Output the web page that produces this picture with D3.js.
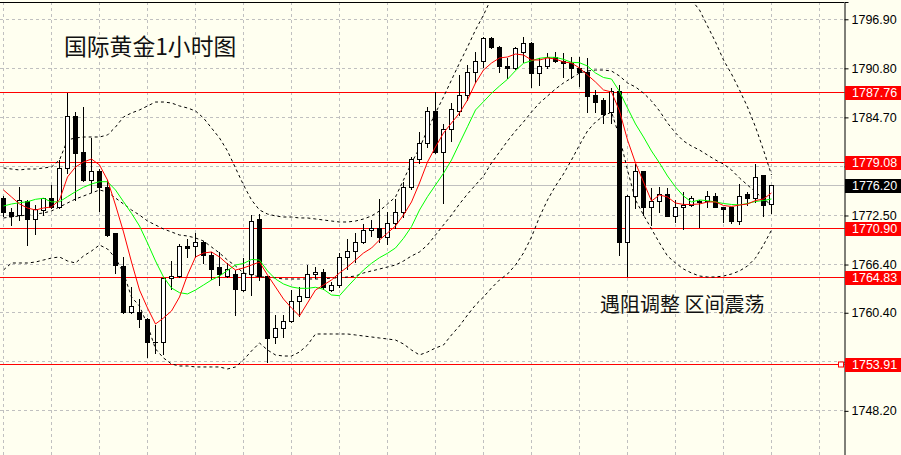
<!DOCTYPE html>
<html><head><meta charset="utf-8">
<script src="https://cdn.jsdelivr.net/npm/d3@7/dist/d3.min.js"></script>
<style>html,body{margin:0;padding:0;background:#fffff0;}svg{display:block;}</style>
</head><body>
<svg id="c" width="901" height="455"></svg>
<script>
const title = "国际黄金1小时图";
const note = "遇阻调整 区间震荡";
const tickValues = [1796.90, 1790.80, 1784.70, 1778.60, 1772.50, 1766.40, 1760.40, 1754.30, 1748.20];
const levels = [1787.76, 1779.08, 1770.90, 1764.83, 1753.91];
const lastPrice = 1776.20;

const opens = [1774.67,1772.81,1772.50,1774.21,1772.06,1773.18,1774.55,1773.55,1778.40,1784.75,1780.39,1776.79,1777.91,1776.04,1770.20,1766.21,1760.49,1760.49,1759.62,1756.64,1756.64,1764.60,1764.97,1768.58,1768.58,1769.20,1767.58,1765.97,1764.97,1765.10,1763.23,1765.22,1771.94,1764.85,1757.38,1758.50,1759.37,1761.86,1762.36,1765.22,1765.41,1763.23,1763.73,1767.33,1768.08,1769.20,1770.69,1770.82,1769.82,1771.44,1772.81,1776.04,1779.52,1781.39,1785.37,1780.39,1783.25,1785.49,1787.48,1790.22,1791.59,1794.45,1793.45,1791.09,1790.84,1792.83,1793.83,1790.10,1790.97,1792.09,1791.71,1791.46,1790.72,1790.22,1787.48,1786.74,1785.25,1787.86,1769.20,1774.92,1777.91,1773.55,1774.18,1775.05,1772.43,1773.55,1773.80,1774.18,1774.18,1774.92,1773.55,1773.43,1771.81,1775.17,1774.67,1777.41,1773.92];
const highs = [1774.92,1773.43,1776.04,1774.42,1773.80,1774.67,1776.29,1779.40,1787.73,1785.37,1785.99,1782.14,1778.28,1776.91,1770.32,1767.33,1763.60,1762.11,1759.70,1758.88,1764.60,1766.84,1768.95,1769.57,1770.32,1769.32,1767.96,1767.96,1766.59,1765.72,1767.21,1772.56,1772.68,1764.90,1760.12,1760.12,1763.23,1763.60,1766.34,1766.09,1765.84,1764.23,1767.83,1769.57,1770.32,1771.44,1771.94,1774.55,1772.93,1774.55,1776.66,1779.77,1782.88,1785.99,1787.86,1783.88,1786.49,1789.97,1791.22,1792.83,1794.70,1794.70,1793.58,1792.09,1793.45,1794.70,1794.08,1792.09,1792.71,1792.83,1792.71,1792.21,1792.21,1792.09,1788.11,1787.11,1788.35,1788.73,1775.05,1778.90,1777.95,1775.92,1776.04,1775.92,1774.42,1775.42,1774.92,1774.42,1775.54,1775.29,1773.60,1773.50,1776.41,1775.42,1778.90,1777.45,1776.20];
const lows = [1772.43,1771.31,1771.94,1768.83,1770.20,1772.56,1773.37,1773.43,1777.78,1774.42,1776.79,1775.42,1773.06,1770.00,1765.34,1760.37,1760.37,1758.63,1754.90,1755.39,1755.27,1763.35,1764.85,1767.33,1767.33,1766.59,1764.60,1763.85,1764.85,1760.12,1763.11,1762.61,1764.47,1754.27,1756.64,1757.38,1759.30,1759.99,1762.30,1764.72,1763.35,1763.15,1763.60,1765.84,1766.71,1769.08,1769.95,1769.20,1768.95,1770.94,1772.31,1775.79,1779.03,1781.02,1780.27,1774.05,1781.76,1785.00,1786.86,1789.10,1790.97,1793.33,1790.34,1789.60,1790.72,1791.59,1788.48,1788.73,1790.84,1791.59,1789.72,1789.60,1788.60,1785.37,1785.37,1784.00,1784.00,1767.58,1764.97,1773.43,1772.56,1771.31,1772.93,1772.40,1771.69,1770.82,1773.68,1771.06,1773.55,1773.50,1771.69,1771.56,1771.44,1773.80,1774.18,1772.43,1772.81];
const closes = [1772.81,1772.43,1774.42,1772.02,1773.30,1774.55,1773.49,1778.40,1784.75,1780.27,1776.91,1777.91,1776.04,1770.07,1766.34,1760.43,1761.12,1759.62,1756.64,1756.70,1764.60,1764.97,1768.58,1768.45,1769.20,1767.46,1765.84,1765.10,1765.72,1763.35,1765.34,1771.81,1764.85,1757.26,1758.50,1759.37,1761.86,1762.48,1765.22,1765.41,1763.60,1763.73,1767.33,1768.08,1769.20,1770.69,1770.94,1769.82,1771.44,1772.81,1776.04,1779.52,1781.39,1785.37,1780.39,1783.25,1785.62,1787.48,1790.34,1791.59,1794.45,1793.45,1790.97,1790.84,1793.21,1793.83,1790.10,1791.09,1792.09,1791.71,1791.34,1790.84,1790.34,1787.24,1786.49,1785.12,1787.86,1769.20,1774.92,1777.91,1773.55,1774.18,1775.05,1772.43,1773.55,1773.80,1774.55,1774.11,1774.92,1773.55,1773.30,1771.81,1774.92,1774.67,1777.28,1773.80,1776.20];

const maFast = [1775.67,1774.80,1773.93,1773.43,1773.18,1773.43,1773.56,1774.43,1777.29,1778.53,1779.15,1779.52,1778.78,1776.91,1773.80,1770.45,1766.71,1763.23,1760.99,1759.00,1759.75,1760.62,1762.36,1765.10,1767.34,1767.83,1767.96,1767.34,1766.47,1765.72,1765.97,1766.34,1766.71,1765.10,1763.61,1762.11,1760.99,1760.00,1761.62,1763.23,1763.85,1764.48,1765.35,1766.09,1766.96,1767.83,1768.45,1769.45,1770.32,1771.19,1772.56,1774.18,1776.54,1779.15,1781.02,1782.76,1784.00,1785.25,1786.86,1788.98,1790.59,1791.46,1792.09,1792.21,1792.58,1792.46,1791.84,1791.84,1792.09,1791.96,1791.59,1791.46,1790.84,1789.97,1789.10,1788.11,1787.86,1785.50,1781.89,1779.03,1776.66,1774.30,1775.05,1774.80,1774.05,1773.87,1773.87,1773.93,1774.18,1774.18,1773.74,1773.62,1773.80,1773.93,1774.36,1774.55,1775.30];
const maSlow = [1773.68,1773.93,1774.09,1774.21,1774.51,1774.64,1774.18,1774.21,1774.84,1775.46,1776.01,1776.42,1776.70,1776.70,1775.67,1774.21,1772.77,1771.19,1769.08,1766.84,1764.85,1763.48,1762.90,1762.74,1763.23,1763.85,1764.48,1764.97,1765.66,1766.34,1766.53,1767.03,1766.96,1765.60,1764.60,1763.98,1763.61,1763.44,1763.44,1763.57,1763.32,1762.61,1762.52,1763.64,1764.69,1765.72,1766.55,1767.25,1767.80,1768.46,1769.66,1771.11,1773.18,1774.84,1776.29,1777.75,1779.40,1781.48,1783.54,1785.62,1786.65,1787.70,1788.60,1789.44,1790.51,1791.43,1791.75,1792.05,1792.17,1792.17,1791.92,1791.55,1791.50,1791.09,1790.22,1789.66,1789.47,1787.92,1785.87,1783.88,1782.26,1780.52,1779.03,1777.41,1776.04,1774.92,1774.18,1774.43,1774.34,1774.18,1773.99,1773.87,1773.80,1773.99,1774.24,1774.36,1774.55];
const bandUpper = [1778.41,1778.28,1778.16,1778.28,1778.28,1778.41,1778.53,1779.40,1781.89,1782.14,1782.26,1782.26,1782.26,1782.51,1783.50,1784.75,1785.25,1785.62,1786.12,1786.61,1786.61,1786.49,1786.12,1785.87,1785.50,1784.62,1783.38,1782.14,1780.52,1778.41,1776.29,1774.43,1773.18,1772.68,1772.44,1772.31,1772.31,1772.19,1772.19,1772.06,1771.94,1771.81,1771.69,1771.69,1771.81,1772.06,1772.44,1773.06,1773.93,1774.80,1776.91,1779.03,1780.89,1783.13,1785.25,1787.24,1789.35,1791.46,1793.45,1795.57,1797.43,1799.55,1801.17,1802.41,1803.03,1803.03,1802.41,1801.54,1800.79,1800.29,1799.92,1799.67,1799.42,1799.18,1798.99,1799.18,1799.67,1800.79,1802.41,1803.65,1804.27,1804.27,1804.03,1803.28,1802.04,1800.54,1799.30,1798.06,1796.07,1794.08,1791.84,1790.10,1788.11,1785.99,1783.51,1780.64,1777.54];
const bandMiddle = [1772.19,1772.31,1772.44,1772.56,1772.68,1772.81,1773.06,1773.56,1774.05,1774.55,1774.92,1775.30,1775.67,1775.42,1774.67,1773.93,1773.18,1772.56,1771.81,1771.32,1770.82,1770.45,1770.07,1769.95,1769.70,1769.33,1768.58,1767.83,1766.96,1766.22,1765.35,1765.10,1764.85,1764.85,1764.73,1764.60,1764.60,1764.60,1764.60,1764.60,1764.60,1764.73,1764.73,1764.85,1764.97,1765.35,1765.60,1765.84,1766.09,1766.34,1766.84,1767.46,1767.96,1768.83,1770.07,1771.32,1772.56,1773.93,1775.17,1776.29,1777.41,1779.03,1780.39,1781.76,1783.01,1784.13,1785.37,1786.49,1787.36,1788.23,1788.98,1789.60,1790.22,1790.47,1790.59,1790.59,1790.47,1789.85,1788.98,1788.48,1787.73,1786.74,1785.50,1784.00,1782.77,1781.76,1781.14,1780.64,1780.02,1779.40,1778.90,1778.16,1777.16,1776.29,1775.42,1774.55,1773.80];
const bandLower = [1765.72,1766.59,1766.59,1766.59,1766.71,1766.96,1767.21,1767.34,1766.84,1766.59,1767.46,1768.08,1768.83,1768.33,1767.21,1765.35,1762.36,1761.24,1758.88,1755.90,1754.78,1754.03,1753.78,1753.78,1753.66,1753.66,1753.66,1753.66,1753.41,1753.66,1754.53,1755.65,1756.64,1755.77,1755.15,1755.02,1755.02,1755.52,1756.39,1757.76,1757.76,1757.76,1757.76,1757.76,1757.64,1757.51,1757.39,1757.26,1757.14,1757.01,1756.52,1755.77,1755.15,1755.52,1756.02,1756.39,1757.64,1758.76,1760.12,1761.37,1762.36,1763.48,1764.48,1765.22,1766.34,1767.83,1769.82,1772.31,1774.43,1776.17,1777.66,1779.40,1781.27,1783.01,1784.13,1784.87,1785.37,1782.26,1778.16,1774.43,1772.56,1770.82,1769.08,1767.46,1766.59,1765.84,1765.35,1764.97,1764.85,1764.85,1764.97,1765.22,1765.60,1766.22,1767.21,1768.83,1770.69];

const W = 901, H = 455;
const plotRight = 844.5, plotTop = 2, plotBottom = 455;
const BG = "#fffff0";

const svg = d3.select("#c");
svg.append("rect").attr("width", W).attr("height", H).attr("fill", BG);

const n = closes.length;
const x = d3.scaleLinear().domain([0, n - 1]).range([3.5, 3.5 + 8 * (n - 1)]);
const y = d3.scaleLinear().domain([1742.71, 1799.05]).range([455, 2]);
const py = v => Math.floor(y(v)) + 0.5;

svg.append("defs").append("clipPath").attr("id", "plot")
  .append("rect").attr("x", 0).attr("y", plotTop).attr("width", plotRight).attr("height", plotBottom - plotTop);

const grid = svg.append("g").attr("stroke", "#c0c0c0").attr("stroke-dasharray", "3,3").attr("stroke-width", 1);
grid.selectAll("line.h").data(tickValues).join("line").attr("class", "h")
  .attr("x1", 0).attr("x2", plotRight).attr("y1", d => py(d)).attr("y2", d => py(d));
const vIdx = d3.range(0, 18 * 6, 6);
grid.selectAll("line.v").data(vIdx).join("line").attr("class", "v")
  .attr("x1", d => x(d)).attr("x2", d => x(d)).attr("y1", plotTop).attr("y2", plotBottom);

const plot = svg.append("g").attr("clip-path", "url(#plot)");

plot.append("line").attr("x1", 0).attr("x2", plotRight).attr("y1", py(lastPrice)).attr("y2", py(lastPrice))
  .attr("stroke", "#c0c0c0").attr("stroke-width", 1);

plot.selectAll("line.lvl").data(levels).join("line").attr("class", "lvl")
  .attr("x1", 0).attr("x2", plotRight).attr("y1", d => py(d)).attr("y2", d => py(d))
  .attr("stroke", "#ff0000").attr("stroke-width", 1).attr("shape-rendering", "crispEdges");

const line = d3.line().x((d, i) => x(i)).y(d => y(d));
[bandUpper, bandMiddle, bandLower].forEach(arr => {
  plot.append("path").attr("d", line(arr)).attr("fill", "none").attr("stroke", "#000")
    .attr("stroke-width", 1).attr("stroke-dasharray", "3,3");
});

const cg = plot.append("g");
d3.range(n).forEach(i => {
  const cx = x(i);
  const o = opens[i], c = closes[i];
  const bull = c >= o;
  cg.append("line").attr("x1", cx).attr("x2", cx)
    .attr("y1", Math.round(y(highs[i]))).attr("y2", Math.round(y(lows[i])) + 1)
    .attr("stroke", "#000").attr("stroke-width", 1);
  const top = py(Math.max(o, c)), bot = py(Math.min(o, c));
  if (bot - top < 1) {
    cg.append("line").attr("x1", cx - 2.5).attr("x2", cx + 2.5).attr("y1", top).attr("y2", top)
      .attr("stroke", "#000").attr("stroke-width", 1);
  } else {
    cg.append("rect").attr("x", cx - 2).attr("y", top).attr("width", 4).attr("height", bot - top)
      .attr("fill", bull ? "#ffffff" : "#000000").attr("stroke", "#000").attr("stroke-width", 1);
  }
});

plot.append("path").attr("d", line(maSlow)).attr("fill", "none").attr("stroke", "#00ff00").attr("stroke-width", 1);
plot.append("path").attr("d", line(maFast)).attr("fill", "none").attr("stroke", "#ff0000").attr("stroke-width", 1);

svg.append("rect").attr("x", 838.5).attr("y", py(levels[4]) - 2.5).attr("width", 5).attr("height", 5)
  .attr("fill", "#ffffff").attr("stroke", "#ff0000");

svg.append("line").attr("x1", 0).attr("x2", plotRight).attr("y1", 2.5).attr("y2", 2.5).attr("stroke", "#000");

const labelled = levels.concat([lastPrice]);
const hidden = v => labelled.some(l => Math.abs(y(l) - y(v)) < 9);
const axis = d3.axisRight(y).tickValues(tickValues).tickSize(4).tickPadding(3)
  .tickFormat(v => hidden(v) ? "" : d3.format(".2f")(v));
const ag = svg.append("g").attr("transform", `translate(${plotRight},0)`).call(axis);
ag.select(".domain").attr("stroke", "#000");
ag.selectAll(".tick line").attr("stroke", "#000");
ag.selectAll(".tick text").attr("fill", "#000").style("font-family", "'Liberation Sans', Arial, sans-serif").style("font-size", "12.5px");

const labelFont = "'Liberation Sans', Arial, sans-serif";
function tag(v, color) {
  const yy = Math.floor(y(v));
  svg.append("rect").attr("x", 845).attr("y", yy - 6).attr("width", 56).attr("height", 14).attr("fill", color);
  svg.append("text").attr("x", 852).attr("y", yy + 0.5).attr("dy", "0.36em").attr("fill", "#fff")
    .style("font-family", labelFont).style("font-size", "12.5px").text(v.toFixed(2));
}
levels.forEach(v => tag(v, "#ff0000"));
tag(lastPrice, "#000000");

svg.append("text").attr("x", 64).attr("y", 55).attr("fill", "#111")
  .style("font-family", "'Noto Sans CJK SC', sans-serif").style("font-size", "22.8px").text(title);
svg.append("text").attr("x", 600).attr("y", 312).attr("fill", "#111")
  .style("font-family", "'Noto Sans CJK SC', sans-serif").style("font-size", "20px").text(note);
</script>
</body></html>
